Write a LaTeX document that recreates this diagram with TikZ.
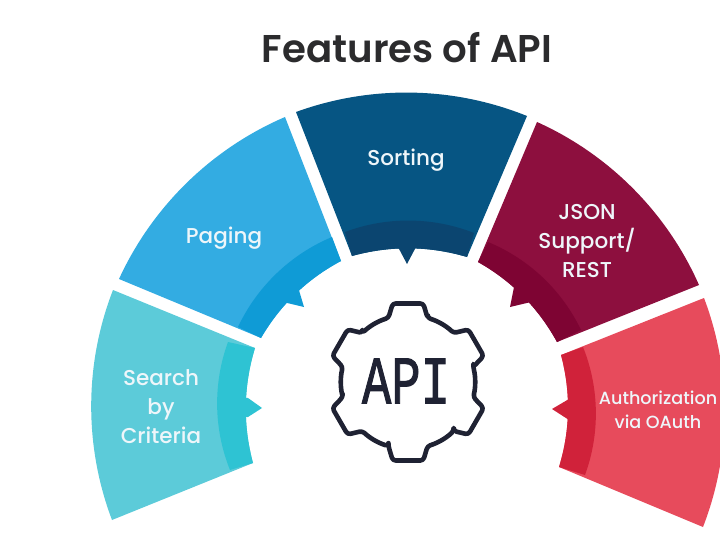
\documentclass[tikz,border=0pt]{standalone}
\usepackage{fontspec}
\setmainfont{Poppins}
\newfontfamily\titlefont{Poppins SemiBold}
\newfontfamily\labelfont{Poppins Medium}
\newfontfamily\gearfont[FakeBold=1.6]{Liberation Mono}
\definecolor{searchmain}{HTML}{5CCBD9}
\definecolor{searchband}{HTML}{2EC3D3}
\definecolor{pagingmain}{HTML}{33ACE2}
\definecolor{pagingband}{HTML}{0F9BD6}
\definecolor{sortmain}{HTML}{065583}
\definecolor{sortband}{HTML}{0B4570}
\definecolor{jsonmain}{HTML}{8D0F3E}
\definecolor{jsonband}{HTML}{7E0433}
\definecolor{authmain}{HTML}{E74B5C}
\definecolor{authband}{HTML}{D0223A}
\definecolor{gearink}{HTML}{1F2233}
\definecolor{titleink}{HTML}{2B2B2D}
\definecolor{labelink}{HTML}{EEF6FA}
\tikzset{
  outerarc/.style={bend left=21,looseness=.88},
  innerarc/.style={bend right=16,looseness=.88},
  label/.style={text=labelink,font=\labelfont\fontsize{21.5}{29}\selectfont,align=center,inner sep=0pt},
  smalllabel/.style={text=labelink,font=\labelfont\fontsize{17.6}{24}\selectfont,align=center,inner sep=0pt},
  gearline/.style={draw=gearink,line width=4.6pt,line join=round,rounded corners=3pt},
}
\begin{document}
\begin{tikzpicture}[x=1pt,y=-1pt]
\useasboundingbox (0,0) rectangle (720,540);
\clip (0,0) rectangle (720,540);
% Search by Criteria
\fill[searchmain] (112,520) to[outerarc] (113,290) -- (255,348) to[innerarc] (253,463) -- cycle;
\fill[searchband] (230,470) to[outerarc] (228,342) -- (255,348) to[innerarc] (253,463) -- cycle;
\fill[searchband] (240,397) -- (248,398) -- (262,408) -- (248,417) -- (240,418) -- cycle;
% Paging
\fill[pagingmain] (119,279) to[outerarc] (285,117) -- (341,261) to[innerarc] (261,338) -- cycle;
\fill[pagingband] (238,327) to[outerarc] (332,237) -- (341,261) to[innerarc] (261,338) -- cycle;
\fill[pagingband] (295,280) -- (298,287) -- (304,307) -- (283,302) -- (276,298) -- cycle;
% Sorting
\fill[sortmain] (296,112) to[outerarc] (527,116) -- (467,257) to[innerarc] (352,256) -- cycle;
\fill[sortband] (345,232) to[outerarc] (474,233) -- (467,257) to[innerarc] (352,256) -- cycle;
\fill[sortband] (397,240) -- (398,247) -- (407,264) -- (416,247) -- (417,240) -- cycle;
% JSON
\fill[jsonmain] (537,122) to[outerarc] (699,285) -- (557,342) to[innerarc] (478,262) -- cycle;
\fill[jsonband] (488,242) to[outerarc] (581,330) -- (557,342) to[innerarc] (478,262) -- cycle;
\fill[jsonband] (518,280) -- (514,287) -- (510,307) -- (531,302) -- (538,298) -- cycle;
% Authorization
\fill[authmain] (704,298) to[outerarc] (703,527) -- (559,467) to[innerarc] (561,355) -- cycle;
\fill[authband] (583,347) to[outerarc] (585,475) -- (559,467) to[innerarc] (561,355) -- cycle;
\fill[authband] (576,398) -- (569,399) -- (552,409) -- (569,420) -- (576,421) -- cycle;
% Gear
\begin{scope}[shift={(408,382)}]
\draw[gearline] (107:67)
  \foreach \a in {90,30,-30,-90,-150,-210} {
    -- ({\a+17}:67) -- ({\a+11}:80) -- ({\a-11}:80) -- ({\a-17}:67) to[bend right=13,looseness=.9] ({\a-43}:67)
  } -- cycle;
\end{scope}
\node[text=gearink,font=\gearfont\fontsize{68}{68}\selectfont,xscale=.72,inner sep=0pt] (api) at (406,381) {API};
% Labels
\node[text=titleink,font=\titlefont\fontsize{38.7}{38.7}\selectfont,inner sep=0pt] (title) at (407,48) {Features of API};
\node[label] (sorting) at (406,160) {Sorting};
\node[label] (paging) at (224,238) {Paging};
\node[label] (search) at (161,407) {Search\\by\\Criteria};
\node[label] (json) at (587,241) {JSON\\Support/\\REST};
\node[smalllabel] (auth) at (658,410) {Authorization\\via OAuth};
\end{tikzpicture}
\end{document}
